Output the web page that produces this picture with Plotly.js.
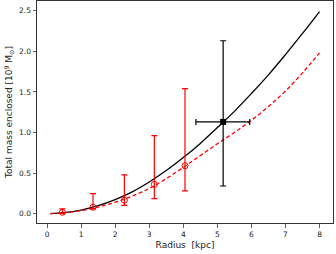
<!DOCTYPE html>
<html><head><meta charset="utf-8">
<script src="https://cdn.plot.ly/plotly-3.0.1.min.js"></script>
<style>html,body{margin:0;padding:0;background:#fff}#c{width:336px;height:254px}</style>
</head><body><div id="c"></div>
<script>
const radiusGrid = [0.1,0.5,1,1.5,2,2.5,3,3.5,4,4.5,5,5.5,6,6.5,7,7.5,8];
const massSolid = [0.0,0.011,0.043,0.097,0.172,0.268,0.39,0.53,0.69,0.865,1.06,1.26,1.48,1.71,1.96,2.22,2.49];
const massDashed = [0.0,0.01,0.037,0.08,0.14,0.215,0.31,0.43,0.57,0.715,0.86,1.0,1.15,1.32,1.51,1.735,1.98];
const redX = [0.45,1.35,2.27,3.15,4.05];
const redY = [0.016,0.078,0.164,0.36,0.59];
const redUpper = [0.057,0.247,0.477,0.96,1.54];
const redLower = [0.0,0.06,0.10,0.185,0.28];
const blackX = [5.17];
const blackY = [1.13];
const blackYUpper = [2.13];
const blackYLower = [0.34];
const blackXLeft = [4.37];
const blackXRight = [5.95];
const xTicks = [0,1,2,3,4,5,6,7,8];
const yTicks = [0,0.5,1,1.5,2,2.5];

const traces = [
  {x: radiusGrid, y: massSolid, mode:'lines', line:{color:'black', width:1.3, shape:'spline'}, hoverinfo:'skip'},
  {x: radiusGrid, y: massDashed, mode:'lines', line:{color:'red', width:1.3, dash:'4px,2.5px', shape:'spline'}, hoverinfo:'skip'},
  {x: redX, y: redY, mode:'markers', marker:{symbol:'circle-open', size:6, color:'red', line:{width:1}},
   error_y:{type:'data', symmetric:false, array: redUpper.map((u,i)=>u-redY[i]), arrayminus: redY.map((v,i)=>v-redLower[i]), color:'red', thickness:1.2, width:3}},
  {x: blackX, y: blackY, mode:'markers', marker:{symbol:'square', size:6, color:'black'},
   error_y:{type:'data', symmetric:false, array: blackYUpper.map((u,i)=>u-blackY[i]), arrayminus: blackY.map((v,i)=>v-blackYLower[i]), color:'black', thickness:1.2, width:3},
   error_x:{type:'data', symmetric:false, array: blackXRight.map((u,i)=>u-blackX[i]), arrayminus: blackX.map((v,i)=>v-blackXLeft[i]), color:'black', thickness:1.2, width:3}}
];
const axisCommon = {showgrid:false, zeroline:false, showline:true, mirror:true, linecolor:'#333', linewidth:1,
  ticks:'outside', ticklen:3.5, tickwidth:0.8, tickcolor:'#333', tickfont:{family:'DejaVu Sans', size:7.5, color:'#222'}};
const layout = {
  width:336, height:254, margin:{l:37, r:3, t:1, b:31}, showlegend:false,
  paper_bgcolor:'white', plot_bgcolor:'white',
  xaxis: Object.assign({}, axisCommon, {range:[-0.295,8.395], tickvals:xTicks, ticktext:xTicks.map(String),
    title:{text:'Radius  [kpc]', font:{family:'DejaVu Sans', size:9, color:'#222'}, standoff:4}}),
  yaxis: Object.assign({}, axisCommon, {range:[-0.116,2.62], tickvals:yTicks, ticktext:yTicks.map(v=>v.toFixed(1)),
    title:{text:'Total mass enclosed [10<sup>9</sup> M<sub>⊙</sub>]', font:{family:'DejaVu Sans', size:9, color:'#222'}, standoff:4}})
};
Plotly.newPlot('c', traces, layout, {staticPlot:true, displayModeBar:false});
</script></body></html>
